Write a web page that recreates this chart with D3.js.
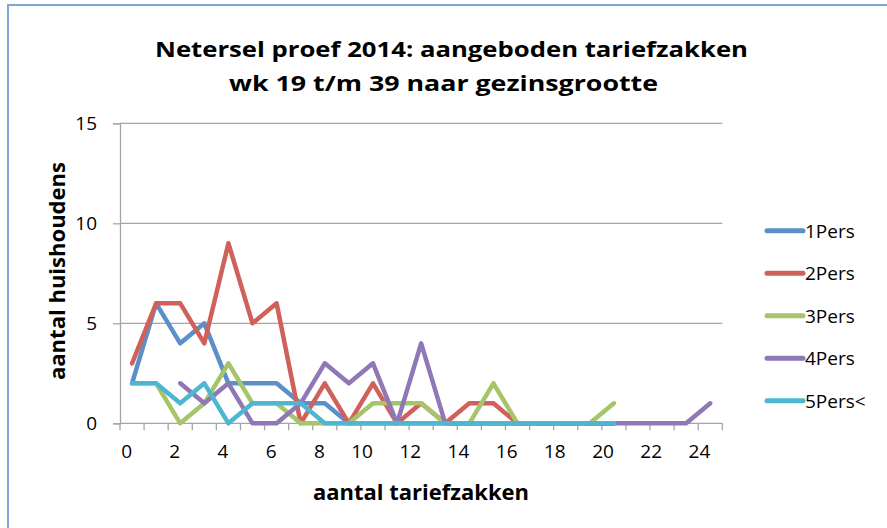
<!DOCTYPE html>
<html>
<head>
<meta charset="utf-8">
<script src="https://cdn.jsdelivr.net/npm/d3@7"></script>
<style>
	body { margin: 0; background: #fff; }
	svg { display: block; font-family: "Open Sans", sans-serif; }
</style>
</head>
<body>
<svg id="chart" width="887" height="528"></svg>
<script>
// categories on the x axis (aantal tariefzakken)
var categories = d3.range(0, 25);
var xLabels = [0, 2, 4, 6, 8, 10, 12, 14, 16, 18, 20, 22, 24];
var yTicks = [0, 5, 10, 15];

var seriesNames = ["1Pers", "2Pers", "3Pers", "4Pers", "5Pers<"];
var colors = ["#5A8FCA", "#D0605A", "#A6C46A", "#8E78B5", "#4EB6D0"];

var pers1 = [2, 6, 4, 5, 2, 2, 2, 1, 1, 0, 0, 0, 0, 0, 0, 0, 0, 0, 0, 0, 0];
var pers2 = [3, 6, 6, 4, 9, 5, 6, 0, 2, 0, 2, 0, 1, 0, 1, 1, 0, 0, 0, 0, 0];
var pers3 = [2, 2, 0, 1, 3, 1, 1, 0, 0, 0, 1, 1, 1, 0, 0, 2, 0, 0, 0, 0, 1];
var pers4 = [null, null, 2, 1, 2, 0, 0, 1, 3, 2, 3, 0, 4, 0, 0, 0, 0, 0, 0, 0, 0, 0, 0, 0, 1];
var pers5 = [2, 2, 1, 2, 0, 1, 1, 1, 0, 0, 0, 0, 0, 0, 0, 0, 0, 0, 0, 0, 0];

var allSeries = [pers1, pers2, pers3, pers4, pers5];

var svg = d3.select("#chart");

// outer chart border
svg.append("rect")
	.attr("x", 8).attr("y", 5)
	.attr("width", 1000).attr("height", 1000)
	.attr("fill", "none")
	.attr("stroke", "#7FA6D8")
	.attr("stroke-width", 2);

var plotLeft = 120, plotRight = 722.3, plotTop = 123.3, plotBottom = 423.3;

var xScale = d3.scaleBand()
	.domain(categories)
	.range([plotLeft, plotRight])
	.paddingInner(0).paddingOuter(0);

var yScale = d3.scaleLinear()
	.domain([0, 15])
	.range([plotBottom, plotTop]);

var gridColor = "#A5A5A5";

// horizontal gridlines
svg.append("g")
	.selectAll("line")
	.data(yTicks.filter(function(d) { return d > 0; }))
	.enter().append("line")
	.attr("x1", plotLeft).attr("x2", plotRight)
	.attr("y1", function(d) { return yScale(d); })
	.attr("y2", function(d) { return yScale(d); })
	.attr("stroke", gridColor)
	.attr("stroke-width", 1.3);

// y axis
var yAxis = d3.axisLeft(yScale)
	.tickValues(yTicks)
	.tickSize(7)
	.tickPadding(16);

var yG = svg.append("g")
	.attr("transform", "translate(" + plotLeft + ",0)")
	.call(yAxis);
yG.select(".domain").attr("stroke", gridColor).attr("stroke-width", 1.3);
yG.selectAll(".tick line").attr("stroke", gridColor).attr("stroke-width", 1.3);
yG.selectAll(".tick text")
	.attr("font-size", 19)
	.attr("font-family", "Open Sans")
	.attr("fill", "#000");

// x axis ticks on category boundaries
var xG = svg.append("g");
xG.append("line")
	.attr("x1", plotLeft).attr("x2", plotRight)
	.attr("y1", plotBottom).attr("y2", plotBottom)
	.attr("stroke", gridColor).attr("stroke-width", 1.3);
xG.selectAll("line.tick")
	.data(categories.concat([25]))
	.enter().append("line")
	.attr("class", "tick")
	.attr("x1", function(d) { return plotLeft + d * xScale.step(); })
	.attr("x2", function(d) { return plotLeft + d * xScale.step(); })
	.attr("y1", plotBottom).attr("y2", plotBottom + 7)
	.attr("stroke", gridColor).attr("stroke-width", 1.3);
xG.selectAll("text")
	.data(xLabels)
	.enter().append("text")
	.attr("x", function(d) { return xScale(d) + xScale.bandwidth() / 2; })
	.attr("y", 458)
	.attr("text-anchor", "end")
	.attr("font-size", 19)
	.text(function(d) { return d; });

// lines
var lineGen = d3.line()
	.defined(function(d) { return d != null; })
	.x(function(d, i) { return xScale(categories[i]) + xScale.bandwidth() / 2; })
	.y(function(d) { return yScale(d); });

allSeries.forEach(function(s, i) {
	svg.append("path")
		.attr("d", lineGen(s))
		.attr("fill", "none")
		.attr("stroke", colors[i])
		.attr("stroke-width", 4.5)
		.attr("stroke-linejoin", "round")
		.attr("stroke-linecap", "round");
});

// legend
var legend = svg.append("g");
seriesNames.forEach(function(name, i) {
	var y = 230.7 + i * 42.5;
	legend.append("line")
		.attr("x1", 767).attr("x2", 803)
		.attr("y1", y).attr("y2", y)
		.attr("stroke", colors[i])
		.attr("stroke-width", 5)
		.attr("stroke-linecap", "round");
	legend.append("text")
		.attr("x", 805).attr("y", y + 7)
		.attr("font-size", 19)
		.text(name);
});

// titles
svg.append("text")
	.attr("x", 155).attr("y", 57)
	.attr("font-size", 22).attr("font-weight", "bold")
	.attr("textLength", 593).attr("lengthAdjust", "spacingAndGlyphs")
	.text("Netersel proef 2014: aangeboden tariefzakken");
svg.append("text")
	.attr("x", 229).attr("y", 91)
	.attr("font-size", 22).attr("font-weight", "bold")
	.attr("textLength", 429).attr("lengthAdjust", "spacingAndGlyphs")
	.text("wk 19 t/m 39 naar gezinsgrootte");

svg.append("text")
	.attr("x", 313).attr("y", 500)
	.attr("font-size", 21).attr("font-weight", "bold")
	.attr("textLength", 216).attr("lengthAdjust", "spacingAndGlyphs")
	.text("aantal tariefzakken");

svg.append("text")
	.attr("transform", "translate(65,380) rotate(-90)")
	.attr("font-size", 21).attr("font-weight", "bold")
	.attr("textLength", 218).attr("lengthAdjust", "spacingAndGlyphs")
	.text("aantal huishoudens");
</script>
</body>
</html>
